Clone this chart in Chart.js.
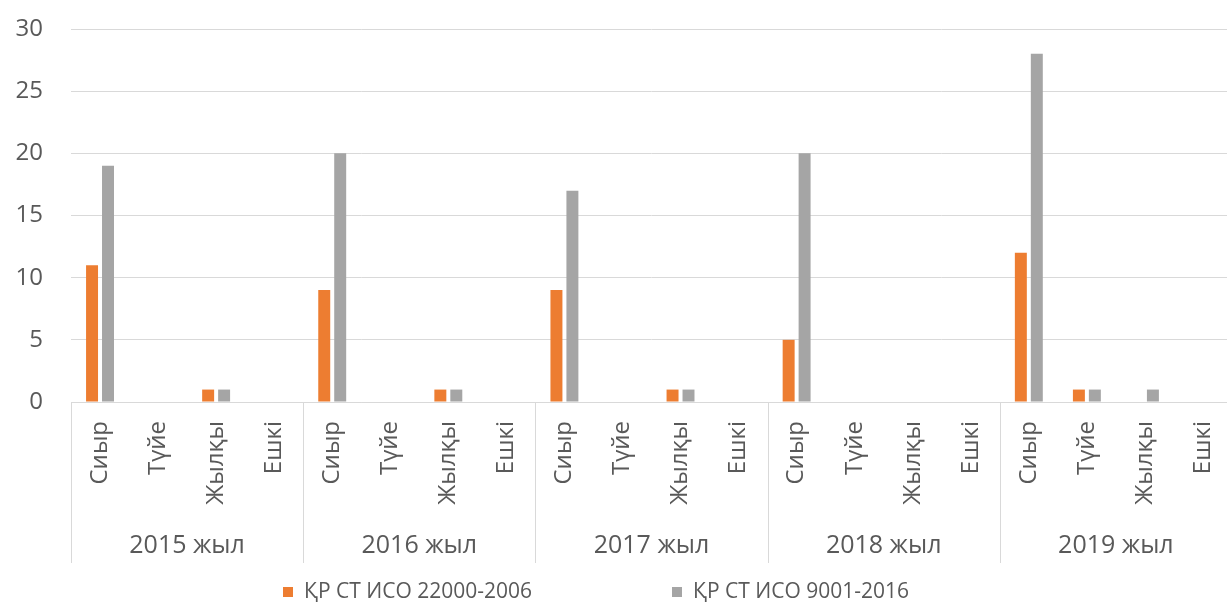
<!DOCTYPE html>
<html>
<head>
<meta charset="utf-8">
<script src="https://cdn.jsdelivr.net/npm/chart.js@4"></script>
<style>
  html, body { margin: 0; padding: 0; background: #ffffff; overflow: hidden; }
  #wrap { width: 1232px; height: 608px; position: relative; }
</style>
</head>
<body>
<div id="wrap"><canvas id="chart"></canvas></div>
<script>
// Animals repeated inside every year group
const animals = ['Сиыр', 'Түйе', 'Жылқы', 'Ешкі'];
const years = ['2015 жыл', '2016 жыл', '2017 жыл', '2018 жыл', '2019 жыл'];

// Number of certified enterprises per animal, year by year
const iso22000 = [11, 0, 1, 0,   9, 0, 1, 0,   9, 0, 1, 0,   5, 0, 0, 0,   12, 1, 0, 0];
const iso9001  = [19, 0, 1, 0,  20, 0, 1, 0,  17, 0, 1, 0,  20, 0, 0, 0,   28, 1, 1, 0];

const seriesNames = ['ҚР СТ ИСО 22000-2006', 'ҚР СТ ИСО 9001-2016'];
const seriesColors = ['#ED7D31', '#A5A5A5'];

const yTicks = { min: 0, max: 30, step: 5 };

const categoryLabels = [];
years.forEach(() => animals.forEach(a => categoryLabels.push(a)));

const FONT = '"Open Sans", "Liberation Sans", sans-serif';
const TEXT = '#595959';
const LINE = '#d9d9d9';

// Group separators under the axis, spanning the animal and year rows
const groupLines = {
  id: 'groupLines',
  afterDraw(chart) {
    const x = chart.scales.x;
    const bottom = chart.scales.x2.bottom - 3;
    const ctx = chart.ctx;
    ctx.save();
    ctx.strokeStyle = LINE;
    ctx.lineWidth = 1;
    for (let k = 0; k <= years.length; k++) {
      const px = Math.round(x.getPixelForDecimal(k / years.length)) + 0.5;
      ctx.beginPath();
      ctx.moveTo(px, chart.chartArea.bottom);
      ctx.lineTo(px, bottom);
      ctx.stroke();
    }
    ctx.restore();
  }
};

// Legend row at the bottom: square marker followed by the series name
const bottomLegend = {
  id: 'bottomLegend',
  afterDraw(chart) {
    const ctx = chart.ctx;
    ctx.save();
    ctx.font = '21px ' + FONT;
    ctx.textBaseline = 'middle';
    const cy = 592;
    const box = 10;
    const starts = [283, 672];
    chart.data.datasets.forEach((ds, i) => {
      const x0 = starts[i];
      ctx.fillStyle = ds.backgroundColor;
      ctx.fillRect(x0, cy - box / 2, box, box);
      ctx.fillStyle = TEXT;
      ctx.fillText(ds.label, x0 + box + 11, cy);
    });
    ctx.restore();
  }
};

new Chart(document.getElementById('chart'), {
  type: 'bar',
  data: {
    labels: categoryLabels,
    datasets: seriesNames.map((name, i) => ({
      label: name,
      data: i === 0 ? iso22000 : iso9001,
      backgroundColor: seriesColors[i],
      borderWidth: 0,
      categoryPercentage: 0.55,
      barPercentage: 0.75
    }))
  },
  options: {
    responsive: true,
    maintainAspectRatio: false,
    animation: false,
    layout: { padding: { top: 29, right: 0, bottom: 42, left: 0 } },
    plugins: {
      legend: { display: false },
      tooltip: { enabled: false }
    },
    scales: {
      y: {
        min: yTicks.min,
        max: yTicks.max,
        ticks: {
          stepSize: yTicks.step,
          color: TEXT,
          font: { family: FONT, size: 24 },
          padding: 28
        },
        grid: { color: LINE, drawTicks: false, lineWidth: 1 },
        border: { display: false },
        afterFit(scale) {
          scale.width = 71;
          scale.paddingTop = 0;
          scale.paddingBottom = 0;
        }
      },
      x: {
        type: 'category',
        offset: true,
        weight: 0,
        ticks: {
          color: TEXT,
          font: { family: FONT, size: 24 },
          minRotation: 90,
          maxRotation: 90,
          autoSkip: false,
          padding: 19
        },
        grid: { display: false, drawTicks: false },
        border: { display: true, color: LINE },
        afterFit(scale) {
          scale.height = 120;
          scale.paddingLeft = 0;
          scale.paddingRight = 0;
        }
      },
      x2: {
        type: 'category',
        labels: years,
        position: 'bottom',
        offset: true,
        weight: 1,
        ticks: {
          color: TEXT,
          font: { family: FONT, size: 25 },
          maxRotation: 0,
          autoSkip: false,
          padding: 9
        },
        grid: { display: false, drawTicks: false },
        border: { display: false },
        afterFit(scale) {
          scale.height = 44;
          scale.paddingLeft = 0;
          scale.paddingRight = 0;
        }
      }
    }
  },
  plugins: [groupLines, bottomLegend]
});
</script>
</body>
</html>
